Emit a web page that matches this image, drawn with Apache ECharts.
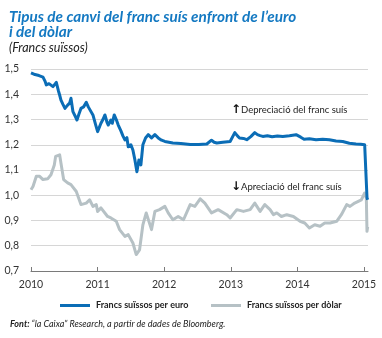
<!DOCTYPE html>
<html>
<head>
<meta charset="utf-8">
<script src="https://cdn.jsdelivr.net/npm/echarts@6/dist/echarts.min.js"></script>
<style>
  html, body { margin: 0; padding: 0; background: #fff; }
  #chart { width: 382px; height: 338px; }
</style>
</head>
<body>
<div id="chart"></div>
<script>
// Tick labels
const yearTicks = [2010, 2011, 2012, 2013, 2014, 2015];

// Francs suïssos per euro (date as decimal year, value)
const eurDates = [
  2010.00, 2010.06, 2010.12, 2010.18, 2010.21, 2010.23, 2010.27, 2010.30, 2010.33, 2010.35,
  2010.38, 2010.41, 2010.43, 2010.45, 2010.48, 2010.51, 2010.55, 2010.58, 2010.60, 2010.63,
  2010.66, 2010.69, 2010.72, 2010.75, 2010.79, 2010.83, 2010.86, 2010.88, 2010.93, 2010.97,
  2011.00, 2011.05, 2011.08, 2011.11, 2011.14, 2011.16, 2011.20, 2011.22, 2011.25, 2011.28,
  2011.31, 2011.35, 2011.38, 2011.41, 2011.44, 2011.46, 2011.50, 2011.53, 2011.56, 2011.59,
  2011.62, 2011.65, 2011.68, 2011.72, 2011.76, 2011.81, 2011.86, 2011.91, 2011.96, 2012.01,
  2012.13, 2012.25, 2012.39, 2012.52, 2012.64, 2012.71, 2012.75, 2012.79, 2012.88, 2012.99,
  2013.06, 2013.10, 2013.13, 2013.19, 2013.24, 2013.30, 2013.36, 2013.40, 2013.44, 2013.48,
  2013.55, 2013.62, 2013.70, 2013.78, 2013.88, 2013.98, 2014.05, 2014.10, 2014.18, 2014.28,
  2014.38, 2014.48, 2014.58, 2014.68, 2014.78, 2014.88, 2014.95, 2015.01, 2015.035, 2015.045,
  2015.055
];
const eurValues = [
  1.485, 1.478, 1.474, 1.468, 1.452, 1.437, 1.442, 1.440, 1.430, 1.423,
  1.447, 1.415, 1.397, 1.377, 1.360, 1.344, 1.357, 1.365, 1.384, 1.331,
  1.315, 1.298, 1.322, 1.344, 1.350, 1.368, 1.350, 1.357, 1.318, 1.280,
  1.252, 1.285, 1.300, 1.318, 1.290, 1.278, 1.298, 1.285, 1.318, 1.300,
  1.278, 1.255, 1.235, 1.219, 1.228, 1.192, 1.200, 1.179, 1.140, 1.093,
  1.140, 1.120, 1.200, 1.227, 1.240, 1.227, 1.240, 1.227, 1.218, 1.213,
  1.207, 1.205, 1.201, 1.201, 1.203, 1.218, 1.210, 1.207, 1.210, 1.213,
  1.248, 1.235, 1.227, 1.225, 1.220, 1.232, 1.248, 1.240, 1.236, 1.233,
  1.236, 1.232, 1.235, 1.233, 1.236, 1.240, 1.230, 1.222, 1.224, 1.220,
  1.222, 1.220, 1.215, 1.213, 1.206, 1.203, 1.202, 1.200, 1.201, 0.990,
  0.982
];

// Francs suïssos per dòlar (date as decimal year, value)
const usdDates = [
  2010.00, 2010.03, 2010.08, 2010.13, 2010.18, 2010.25, 2010.30, 2010.35, 2010.37, 2010.43,
  2010.45, 2010.49, 2010.55, 2010.60, 2010.68, 2010.75, 2010.83, 2010.88, 2010.93, 2010.98,
  2011.00, 2011.05, 2011.15, 2011.20, 2011.28, 2011.33, 2011.41, 2011.46, 2011.53, 2011.58,
  2011.63, 2011.65, 2011.68, 2011.73, 2011.81, 2011.86, 2011.93, 2012.01, 2012.06, 2012.13,
  2012.21, 2012.29, 2012.39, 2012.46, 2012.54, 2012.61, 2012.71, 2012.81, 2012.94, 2012.99,
  2013.09, 2013.19, 2013.29, 2013.36, 2013.44, 2013.51, 2013.59, 2013.64, 2013.69, 2013.76,
  2013.84, 2013.94, 2014.04, 2014.11, 2014.18, 2014.26, 2014.34, 2014.41, 2014.49, 2014.59,
  2014.66, 2014.74, 2014.79, 2014.86, 2014.96, 2015.01, 2015.035, 2015.045, 2015.055
];
const usdValues = [
  1.022, 1.035, 1.075, 1.075, 1.062, 1.065, 1.081, 1.120, 1.154, 1.160,
  1.127, 1.062, 1.049, 1.042, 1.015, 0.963, 0.969, 0.982, 0.956, 0.963,
  0.936, 0.950, 0.916, 0.910, 0.897, 0.864, 0.837, 0.844, 0.811, 0.765,
  0.784, 0.791, 0.883, 0.930, 0.864, 0.936, 0.943, 0.956, 0.930, 0.903,
  0.916, 0.903, 0.963, 0.956, 0.986, 0.969, 0.930, 0.943, 0.923, 0.910,
  0.943, 0.936, 0.943, 0.969, 0.936, 0.963, 0.943, 0.923, 0.930, 0.916,
  0.923, 0.916, 0.897, 0.890, 0.870, 0.883, 0.877, 0.890, 0.890, 0.897,
  0.923, 0.963, 0.956, 0.969, 0.982, 1.009, 0.990, 0.857, 0.875
];

const seriesNames = ['Francs suïssos per euro', 'Francs suïssos per dòlar'];
const titleLines = ['Tipus de canvi del franc suís enfront de l’euro', 'i del dòlar'];
const subtitleText = '(Francs suïssos)';
const upNote = 'Depreciació del franc suís';
const downNote = 'Apreciació del franc suís';
const sourceLead = 'Font:';
const sourceText = ' “la Caixa” Research, a partir de dades de Bloomberg.';

const eurSeries = eurDates.map((d, i) => [d, eurValues[i]]);
const usdSeries = usdDates.map((d, i) => [d, usdValues[i]]);

const BLUE = '#0b6db6';
const GREY = '#b6c1c5';
const FONT = 'Lato, "Open Sans", sans-serif';

const TITLE_SIZE = 15.3;
const SUBTITLE_SIZE = 12.5;
const NOTE_SIZE = 9.5;
const LEGEND_SIZE = 9;
const SOURCE_SIZE = 9;

// Width of the first legend label, used to place the second legend item
const measureCtx = document.createElement('canvas').getContext('2d');
measureCtx.font = `bold ${LEGEND_SIZE}px ${FONT}`;
const legendFirstWidth = measureCtx.measureText(seriesNames[0]).width;

const chart = echarts.init(document.getElementById('chart'), null, { renderer: 'canvas' });

chart.setOption({
  animation: false,
  backgroundColor: '#ffffff',
  grid: { left: 31, right: 14, top: 69, bottom: 67, containLabel: false },
  xAxis: {
    type: 'value',
    min: 2010,
    max: 2015.06,
    splitLine: { show: false },
    axisLine: { show: true, lineStyle: { color: '#7a7a7a', width: 1 } },
    axisTick: {
      show: true, inside: true, length: 4,
      customValues: yearTicks,
      lineStyle: { color: '#7a7a7a', width: 1 }
    },
    axisLabel: {
      customValues: yearTicks,
      formatter: v => String(Math.round(v)),
      color: '#333', fontFamily: FONT, fontSize: 10.5, margin: 8
    }
  },
  yAxis: {
    type: 'value',
    min: 0.7,
    max: 1.5,
    interval: 0.1,
    axisLine: { show: false },
    axisTick: { show: false },
    splitLine: { lineStyle: { color: '#d6d6d6', width: 1 } },
    axisLabel: {
      formatter: v => v.toFixed(1).replace('.', ','),
      color: '#333', fontFamily: FONT, fontSize: 10.5, margin: 12
    }
  },
  legend: {
    left: 60,
    top: 301,
    padding: 0,
    itemWidth: 30,
    itemHeight: 3,
    itemGap: Math.max(4, 211 - (60 + 30 + 6 + legendFirstWidth)),
    icon: 'rect',
    textStyle: { color: '#222', fontFamily: FONT, fontSize: LEGEND_SIZE, fontWeight: 'bold', padding: [0, 0, 0, 1] },
    data: seriesNames
  },
  series: [
    {
      name: seriesNames[1],
      type: 'line',
      data: usdSeries,
      showSymbol: false,
      lineStyle: { color: GREY, width: 3, join: 'round' },
      itemStyle: { color: GREY }
    },
    {
      name: seriesNames[0],
      type: 'line',
      data: eurSeries,
      showSymbol: false,
      lineStyle: { color: BLUE, width: 3, join: 'round' },
      itemStyle: { color: BLUE }
    }
  ],
  graphic: [
    {
      type: 'text', left: 9, top: 9,
      style: {
        text: titleLines.join('\n'),
        fill: '#1479c2', font: `italic bold ${TITLE_SIZE}px ${FONT}`, lineHeight: 15.5
      }
    },
    {
      type: 'text', left: 9, top: 41,
      style: { text: subtitleText, fill: '#222', font: `italic ${SUBTITLE_SIZE}px ${FONT}` }
    },
    {
      type: 'text', left: 231, top: 104,
      style: { text: '↑', fill: '#111', font: 'bold 12px "DejaVu Sans", sans-serif' }
    },
    {
      type: 'text', left: 241, top: 105,
      style: { text: upNote, fill: '#222', font: `${NOTE_SIZE}px ${FONT}` }
    },
    {
      type: 'text', left: 231, top: 181,
      style: { text: '↓', fill: '#111', font: 'bold 12px "DejaVu Sans", sans-serif' }
    },
    {
      type: 'text', left: 241, top: 182,
      style: { text: downNote, fill: '#222', font: `${NOTE_SIZE}px ${FONT}` }
    },
    {
      type: 'text', left: 10, top: 320,
      style: {
        text: `{b|${sourceLead}}${sourceText}`,
        rich: {
          b: { fontFamily: FONT, fontSize: SOURCE_SIZE, fontStyle: 'italic', fontWeight: 'bold', fill: '#222' }
        },
        fill: '#222', font: `italic ${SOURCE_SIZE}px ${FONT}`
      }
    }
  ]
});
</script>
</body>
</html>
